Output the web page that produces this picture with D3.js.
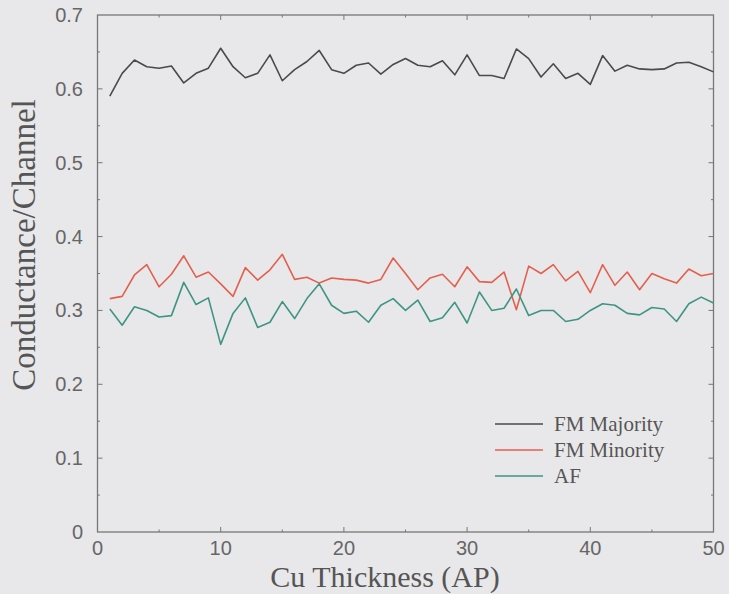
<!DOCTYPE html>
<meta charset="utf-8">
<style>
    body { margin: 0; background: #e8e8ea; }
    svg { display: block; }
    .tick-label { font-family: "Liberation Sans", Arial, sans-serif; font-size: 20px; fill: #666; }
    .axis-title { font-family: "Liberation Serif", "Times New Roman", serif; fill: #555; }
    .legend text { font-family: "Liberation Serif", "Times New Roman", serif; font-size: 21px; fill: #555; }
</style>
<svg id="chart" width="729" height="594"></svg>
<script src="https://d3js.org/d3.v7.min.js"></script>
<script>
    const thickness = d3.range(1, 51);

    const fmMajority = [
        0.590, 0.621, 0.639, 0.630, 0.628, 0.631, 0.608, 0.621, 0.628, 0.655,
        0.630, 0.615, 0.621, 0.646, 0.611, 0.626, 0.637, 0.652, 0.626, 0.621,
        0.632, 0.635, 0.620, 0.633, 0.641, 0.632, 0.630, 0.638, 0.619, 0.646,
        0.618, 0.618, 0.614, 0.654, 0.641, 0.616, 0.634, 0.614, 0.621, 0.606,
        0.645, 0.624, 0.632, 0.627, 0.626, 0.627, 0.635, 0.636, 0.630, 0.623
    ];
    const fmMinority = [
        0.316, 0.319, 0.348, 0.362, 0.332, 0.349, 0.374, 0.345, 0.352, 0.336,
        0.319, 0.358, 0.341, 0.355, 0.376, 0.342, 0.345, 0.337, 0.344, 0.342,
        0.341, 0.337, 0.342, 0.371, 0.350, 0.328, 0.344, 0.349, 0.332, 0.359,
        0.339, 0.338, 0.352, 0.301, 0.360, 0.350, 0.362, 0.340, 0.353, 0.324,
        0.362, 0.334, 0.352, 0.328, 0.350, 0.343, 0.337, 0.356, 0.347, 0.350
    ];
    const af = [
        0.302, 0.280, 0.305, 0.300, 0.291, 0.293, 0.338, 0.308, 0.317, 0.254,
        0.296, 0.317, 0.277, 0.284, 0.312, 0.289, 0.316, 0.336, 0.307, 0.296,
        0.299, 0.284, 0.307, 0.316, 0.300, 0.314, 0.285, 0.290, 0.311, 0.283,
        0.325, 0.300, 0.303, 0.329, 0.293, 0.300, 0.300, 0.285, 0.288, 0.300,
        0.309, 0.307, 0.296, 0.294, 0.304, 0.302, 0.285, 0.309, 0.318, 0.310
    ];

    const seriesNames = ["FM Majority", "FM Minority", "AF"];
    const seriesColors = ["#4a4a4a", "#e4604e", "#3f9583"];
    const seriesValues = [fmMajority, fmMinority, af];

    const xTicks = [0, 10, 20, 30, 40, 50];
    const yTicks = [0, 0.1, 0.2, 0.3, 0.4, 0.5, 0.6, 0.7];

    const svg = d3.select("#chart");
    const plotLeft = 97.5, plotRight = 713.5, plotTop = 15, plotBottom = 532;

    const x = d3.scaleLinear().domain([0, 50]).range([plotLeft, plotRight]);
    const y = d3.scaleLinear().domain([0, 0.7]).range([plotBottom, plotTop]);

    const axisColor = "#777";

    // frame
    svg.append("rect")
        .attr("x", plotLeft).attr("y", plotTop)
        .attr("width", plotRight - plotLeft).attr("height", plotBottom - plotTop)
        .attr("fill", "none").attr("stroke", axisColor).attr("stroke-width", 1.3);

    // inward ticks on all four sides
    const xMinor = d3.range(5, 50, 10);
    const yMinor = d3.range(0.05, 0.7, 0.1);
    const ticks = svg.append("g").attr("stroke", axisColor).attr("stroke-width", 1);

    function addTicks(values, len, isX) {
        values.forEach(v => {
            if (isX) {
                ticks.append("line").attr("x1", x(v)).attr("x2", x(v)).attr("y1", plotBottom).attr("y2", plotBottom - len);
                ticks.append("line").attr("x1", x(v)).attr("x2", x(v)).attr("y1", plotTop).attr("y2", plotTop + len);
            } else {
                ticks.append("line").attr("y1", y(v)).attr("y2", y(v)).attr("x1", plotLeft).attr("x2", plotLeft + len);
                ticks.append("line").attr("y1", y(v)).attr("y2", y(v)).attr("x1", plotRight).attr("x2", plotRight - len);
            }
        });
    }
    addTicks(xTicks.slice(1, -1), 5, true);
    addTicks(xMinor, 2.5, true);
    addTicks(yTicks.slice(1, -1), 5, false);
    addTicks(yMinor, 2.5, false);

    // tick labels
    svg.append("g").selectAll("text")
        .data(xTicks)
        .enter().append("text")
        .attr("class", "tick-label")
        .attr("x", d => x(d))
        .attr("y", 555)
        .attr("font-size", 19)
        .attr("text-anchor", "middle")
        .text(d => d);

    svg.append("g").selectAll("text")
        .data(yTicks)
        .enter().append("text")
        .attr("class", "tick-label")
        .attr("x", 83)
        .attr("y", d => y(d) + 7)
        .attr("text-anchor", "end")
        .text(d => d === 0 ? "0" : d3.format(".1f")(d));

    // axis titles
    svg.append("text")
        .attr("class", "axis-title")
        .attr("x", 385).attr("y", 587)
        .attr("text-anchor", "middle")
        .attr("font-size", 30)
        .text("Cu Thickness (AP)");

    svg.append("text")
        .attr("class", "axis-title")
        .attr("transform", "translate(35,245) rotate(-90)")
        .attr("text-anchor", "middle")
        .attr("font-size", 33)
        .text("Conductance/Channel");

    // lines
    const line = d3.line()
        .x((d, i) => x(thickness[i]))
        .y(d => y(d));

    seriesValues.forEach((vals, k) => {
        svg.append("path")
            .datum(vals)
            .attr("fill", "none")
            .attr("stroke", seriesColors[k])
            .attr("stroke-width", 1.6)
            .attr("stroke-linejoin", "round")
            .attr("d", line);
    });

    // legend
    const legend = svg.append("g").attr("class", "legend");
    const rows = legend.selectAll("g")
        .data(seriesNames)
        .enter().append("g")
        .attr("transform", (d, i) => "translate(495," + (424 + i * 26) + ")");

    rows.append("line")
        .attr("x1", 0).attr("x2", 48)
        .attr("stroke", (d, i) => seriesColors[i])
        .attr("stroke-width", 1.6);

    rows.append("text")
        .attr("x", 59)
        .attr("y", 7)
        .text(d => d);
</script>
